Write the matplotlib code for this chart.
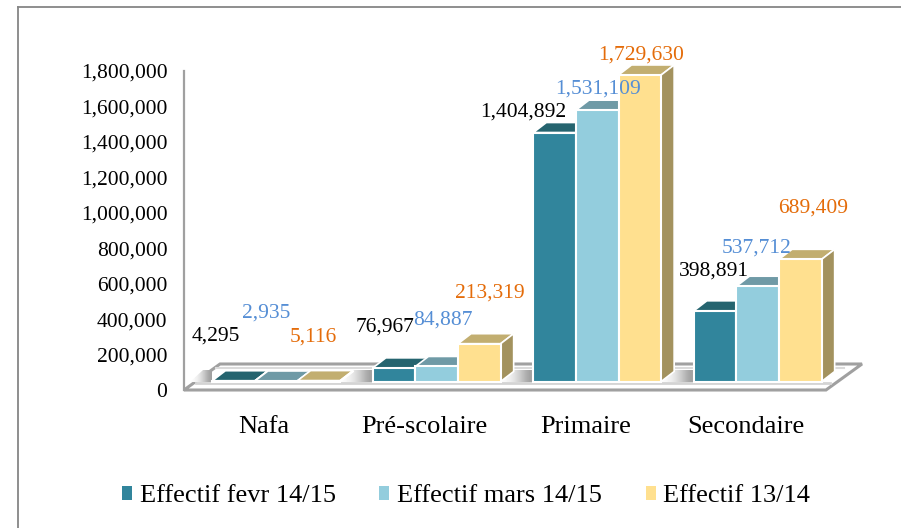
import numpy as np
import matplotlib
matplotlib.use('Agg')
import matplotlib.pyplot as plt
import matplotlib.patches as patches
import matplotlib.transforms as mtrans
import matplotlib.ticker as ticker

categories = ['Nafa', 'Pré-scolaire', 'Primaire', 'Secondaire']
series_names = ['Effectif fevr 14/15', 'Effectif mars 14/15', 'Effectif 13/14']
fevr = [4295, 76967, 1404892, 398891]
mars = [2935, 84887, 1531109, 537712]
annee = [5116, 213319, 1729630, 689409]
series = [fevr, mars, annee]

front_cols = ['#31859C', '#93CDDD', '#FFE08F']
top_cols = ['#25646F', '#6F9AA6', '#C2AE70']
side_cols = ['#215867', '#6E8E98', '#A3925E']
label_cols = ['#000000', '#558ED5', '#E46C0A']
# label offsets from the top of each bar, pixels
label_dx = [[-18, -9, -31, -1], [-10, 6, 1, -1], [-6, 10, 1, 13]]
label_dy = [[45, 41, 20, 40], [68, 46, 21, 38], [44, 51, 20, 51]]

plt.rcParams['font.family'] = ['Liberation Serif', 'DejaVu Serif']

W, H = 901, 528
fig = plt.figure(figsize=(W / 100, H / 100), dpi=100)
ax = fig.add_axes([184 / W, 1 - 390 / H, 642 / W, 319 / H])
ax.set_xlim(-0.5, 3.5)
ax.set_ylim(0, 1800000)

# data units for one pixel
px = 4 / 642
py = 1800000 / 319
bar_w = 42.6 * px
dep_x, dep_y = 13 * px, 10 * py
base = ax.transData + mtrans.ScaledTranslation(12 / 100, 8.5 / 100, fig.dpi_scale_trans)

# floor
floor_x = np.array([-0.5, 3.5, 3.5 + 36 * px, -0.5 + 36 * px])
floor_y = np.array([0, 0, 26 * py, 26 * py])
ax.add_patch(patches.Polygon(np.c_[floor_x, floor_y], closed=True, fc='white', ec='#A0A0A0',
                             lw=2.2, clip_on=False, zorder=1))
ax.plot([-0.5 + 12 * px, 3.5 + 4 * px], [7 * py, 7 * py], color='#D4D4D4', lw=2, zorder=1.1,
        clip_on=False)
ax.plot([-0.5 + 32 * px, 3.5 + 18 * px], [22.5 * py, 22.5 * py], color='#DADADA', lw=1.5, zorder=1.1,
        clip_on=False)

# soft shadow on the floor in front of each group of bars
grad = np.array([[0.99, 0.95, 0.87, 0.75, 0.62]])
for c in range(4):
    x1 = c - 1.5 * bar_w + 12 * px
    x0 = x1 - 34 * px
    if c == 0:
        x0 = x1 - 22 * px
    clip = patches.Polygon([[x0, 8 * py], [x1, 8 * py], [x1, 20 * py], [x0 + 13 * px, 20 * py]],
                           closed=True, fc='none', ec='none', transform=ax.transData)
    ax.add_patch(clip)
    im = ax.imshow(grad, cmap='gray', vmin=0, vmax=1, extent=[x0, x1, 8 * py, 20 * py],
                   aspect='auto', interpolation='bicubic', zorder=1.3)
    im.set_clip_path(clip)
ax.set_xlim(-0.5, 3.5)
ax.set_ylim(0, 1800000)

# bars, left to right so each one hides the side of the previous
for c in range(len(categories)):
    for s in range(3):
        v = series[s][c]
        left = c + (s - 1.5) * bar_w
        right = left + bar_w
        ax.fill([left, right, right + dep_x, left + dep_x],
                [v, v, v + dep_y, v + dep_y], fc=top_cols[s], ec='white', lw=1.2,
                transform=base, clip_on=False, zorder=2 + c + s * 0.1)
        ax.fill([right, right + dep_x, right + dep_x, right],
                [0, dep_y, v + dep_y, v], fc=side_cols[s], ec='white', lw=1.2,
                transform=base, clip_on=False, zorder=2 + c + s * 0.1)
        ax.bar(left, v, bar_w, align='edge', color=front_cols[s], edgecolor='white', lw=1.5,
               transform=base, clip_on=False, zorder=2.05 + c + s * 0.1)

# value labels
for s in range(3):
    for c in range(len(categories)):
        v = series[s][c]
        ax.annotate(format(v, ','), xy=(c + (s - 1) * bar_w, v), xycoords=base,
                    xytext=(label_dx[s][c], label_dy[s][c]), textcoords='offset pixels',
                    ha='center', va='center', fontsize=15.5, color=label_cols[s], zorder=20)

ax.set_xticks(range(4))
ax.set_xticklabels(categories, fontsize=19)
ax.yaxis.set_major_locator(ticker.MultipleLocator(200000))
ax.yaxis.set_major_formatter(ticker.FuncFormatter(lambda x, p: format(int(x), ',')))
ax.tick_params(axis='y', length=0, pad=12, labelsize=15.5)
ax.tick_params(axis='x', length=0, pad=19)
for k in ['top', 'right', 'bottom']:
    ax.spines[k].set_visible(False)
ax.spines['left'].set_color('#A0A0A0')
ax.spines['left'].set_linewidth(1.6)
ax.patch.set_alpha(0)

# legend
handles = [patches.Patch(fc=front_cols[i], ec='none') for i in range(3)]
fig.legend(handles, series_names, loc='center', bbox_to_anchor=(466 / W, 1 - 496 / H),
           ncol=3, frameon=False, fontsize=19, handlelength=0.38, handleheight=0.45,
           handletextpad=0.3, columnspacing=1.65, borderpad=0, borderaxespad=0)

# outer frame, runs off the right and bottom of the picture
fig.add_artist(plt.Line2D([18 / W, 18 / W], [0, 1 - 7 / H], color='#868686', lw=1.3))
fig.add_artist(plt.Line2D([18 / W, 1], [1 - 7 / H, 1 - 7 / H], color='#868686', lw=1.3))

fig.savefig('out.png', dpi=100)
